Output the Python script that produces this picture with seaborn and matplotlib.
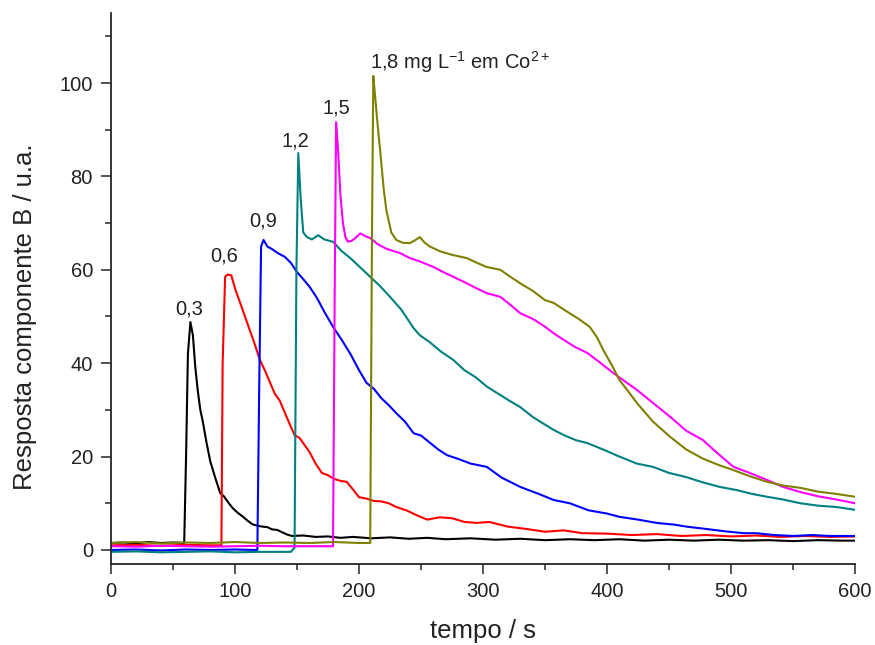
import matplotlib
matplotlib.use("Agg")
import matplotlib.pyplot as plt
from matplotlib.ticker import MultipleLocator
import numpy as np
import pandas as pd
import seaborn as sns

# ---- data ----
black_t = [0, 10, 20, 30, 40, 50, 59, 60.5, 62, 64, 66, 68, 70, 72, 74, 77, 80, 84, 88, 91,
           95, 98, 102, 106, 110, 114, 118, 122, 126, 130, 134, 138, 142, 146, 155, 165, 175, 185, 195, 210,
           225, 240, 255, 270, 290, 310, 330, 350, 370, 390, 410, 430, 450, 470, 490, 510, 530, 550, 570, 590, 600]
black_y = [1.5, 1.6, 1.4, 1.7, 1.5, 1.6, 1.5, 20, 42, 48.8, 46, 39, 34, 30, 27.5, 23, 19, 15.5, 12.2, 11.5,
           10, 9, 8, 7.2, 6.3, 5.5, 5.2, 5.0, 4.9, 4.4, 4.3, 3.8, 3.3, 3.0, 3.1, 2.8, 2.9, 2.6, 2.8, 2.5,
           2.7, 2.4, 2.6, 2.3, 2.5, 2.2, 2.4, 2.1, 2.3, 2.1, 2.3, 2.0, 2.2, 2.0, 2.2, 2.0, 2.1, 1.9, 2.1, 2.0, 2.0]

red_t = [0, 20, 40, 60, 80, 89, 90, 92, 94, 97, 100, 104, 108, 112, 116, 120, 124, 128, 132, 136,
         140, 144, 148, 152, 156, 160, 165, 170, 175, 180, 185, 190, 195, 200, 206, 212, 218, 224, 230, 238,
         246, 255, 265, 275, 285, 295, 305, 320, 335, 350, 365, 380, 400, 420, 440, 460, 480, 500, 520, 540,
         560, 580, 600]
red_y = [1.0, 1.1, 0.9, 1.1, 1.0, 1.0, 40, 58.5, 59, 58.8, 56, 53, 50, 47, 44, 40.7, 38.5, 36, 33.5, 32,
         29.5, 27, 24.6, 24, 22.5, 21, 18.5, 16.5, 16, 15.2, 14.8, 14.6, 13, 11.3, 11, 10.5, 10.4, 10, 9.2, 8.5,
         7.5, 6.5, 7, 6.8, 6, 5.8, 6.0, 5.0, 4.5, 3.9, 4.2, 3.6, 3.5, 3.2, 3.4, 3.0, 3.2, 2.9, 3.1, 2.8,
         3.0, 2.8, 2.9]

blue_t = [0, 20, 40, 60, 80, 100, 118, 119.5, 121, 123, 126, 130, 135, 140, 145, 150, 155, 160, 166, 172,
          179, 186, 193, 200, 206, 212, 218, 224, 230, 237, 244, 250, 257, 264, 271, 280, 290, 303, 315, 330,
          345, 357, 370, 385, 400, 410, 425, 440, 455, 464, 480, 495, 510, 520, 535, 550, 565, 580, 600]
blue_y = [0.0, 0.1, -0.1, 0.1, 0.0, 0.1, 0.0, 35, 65, 66.4, 65, 64.4, 63.5, 62.8, 61.5, 59.5, 58, 56.4, 54, 51,
          47.8, 45, 42, 38.5, 35.8, 34.5, 32.5, 31, 29.3, 27.5, 25, 24.5, 23, 21.5, 20.3, 19.5, 18.5, 17.8, 15.5, 13.5,
          12, 10.7, 10, 8.5, 7.8, 7.1, 6.5, 5.8, 5.4, 5.0, 4.5, 4.0, 3.6, 3.6, 3.2, 3.0, 3.2, 3.0, 3.0]

teal_t = [0, 20, 40, 60, 80, 100, 120, 145, 148, 149.5, 151, 153, 155, 158, 162, 167, 172, 179, 186, 193,
          201, 209, 217, 225, 234, 244, 249, 257, 266, 276, 285, 294, 303, 312, 321, 330, 340, 349, 357, 366,
          375, 384, 397, 410, 424, 437, 450, 464, 477, 491, 505, 517, 529, 542, 556, 570, 585, 600]
teal_y = [-0.4, -0.3, -0.5, -0.4, -0.3, -0.5, -0.4, -0.4, 0.5, 60, 85, 75, 68, 67, 66.5, 67.4, 66.5, 66, 64, 62.5,
          60.5, 58.5, 56.5, 54.2, 51.5, 47.5, 46, 44.5, 42.5, 40.7, 38.5, 37, 35, 33.5, 32, 30.6, 28.5, 27, 25.7, 24.5,
          23.5, 22.9, 21.5, 20, 18.5, 17.8, 16.5, 15.6, 14.5, 13.5, 12.8, 12, 11.4, 10.8, 10, 9.5, 9.2, 8.6]

magenta_t = [0, 20, 40, 60, 80, 100, 120, 140, 160, 179, 180.5, 181.5, 183, 185, 187, 189, 191, 194, 197, 201,
             205, 209, 215, 222, 233, 241, 249, 260, 268, 276, 287, 295, 303, 314, 322, 330, 340, 349, 357, 365,
             374, 384, 395, 405, 415, 424, 437, 451, 464, 477, 490, 502, 515, 529, 542, 556, 570, 585, 600]
magenta_y = [0.8, 0.7, 0.9, 0.8, 0.7, 0.8, 0.9, 0.8, 0.8, 0.8, 60, 91.6, 86, 76, 70, 67, 66, 66.2, 66.8, 67.8,
             67.2, 66.8, 65.5, 64.5, 63.6, 62.5, 61.8, 60.6, 59.5, 58.5, 57.1, 56, 55, 54.2, 52.5, 50.7, 49.5, 48, 46.4, 45,
             43.5, 42.2, 40, 37.9, 36, 34.3, 31.5, 28.5, 25.5, 23.6, 20.5, 17.8, 16.5, 15, 13.5, 12.4, 11.5, 10.8, 10]

olive_t = [0, 20, 40, 60, 80, 100, 120, 140, 160, 180, 200, 209, 210.5, 211.5, 213, 215, 217, 220, 222, 226,
           230, 235, 241, 245, 249, 253, 257, 265, 275, 287, 295, 303, 314, 322, 330, 340, 350, 357, 368, 377,
           386, 392, 397, 404, 410, 417, 424, 437, 451, 464, 477, 490, 502, 515, 529, 542, 556, 570, 585, 600]
olive_y = [1.5, 1.7, 1.4, 1.6, 1.5, 1.7, 1.5, 1.6, 1.5, 1.7, 1.5, 1.5, 70, 101.5, 97, 91, 85.6, 77, 72.8, 68,
           66.4, 65.8, 65.7, 66.3, 67, 65.8, 65, 64, 63.2, 62.5, 61.5, 60.6, 60, 58.5, 57.1, 55.5, 53.5, 52.9, 51, 49.5,
           47.8, 45.5, 42.8, 39.5, 36.4, 34, 31.5, 27.5, 24.2, 21.5, 19.6, 18.2, 17.1, 15.8, 14.6, 13.8, 13.3, 12.5, 12, 11.4]

series_names = ["0,3", "0,6", "0,9", "1,2", "1,5", "1,8"]
series_t = [black_t, red_t, blue_t, teal_t, magenta_t, olive_t]
series_y = [black_y, red_y, blue_y, teal_y, magenta_y, olive_y]
series_colors = ["#000000", "#ff0000", "#0000ff", "#008080", "#ff00ff", "#808000"]

label_texts = ["0,3", "0,6", "0,9", "1,2", "1,5", r"1,8 mg L$^{-1}$ em Co$^{2+}$"]
label_x = [63, 91, 122.6, 148.4, 181.5, 209]
label_y = [51.6, 63, 70.5, 87.6, 94.7, 104.4]
label_ha = ["center", "center", "center", "center", "center", "left"]

x_ticks = [0, 100, 200, 300, 400, 500, 600]
y_ticks = [0, 20, 40, 60, 80, 100]

# ---- build frame ----
frames = []
for name, t, y in zip(series_names, series_t, series_y):
    assert len(t) == len(y), name
    frames.append(pd.DataFrame({"t": t, "y": y, "serie": name}))
df = pd.concat(frames, ignore_index=True)

sns.set_style("ticks")
plt.rcParams["font.family"] = ["Liberation Sans", "DejaVu Sans"]
plt.rcParams["mathtext.fontset"] = "custom"
plt.rcParams["mathtext.rm"] = "Liberation Sans"
plt.rcParams["mathtext.it"] = "Liberation Sans:italic"
plt.rcParams["mathtext.default"] = "regular"

fig = plt.figure(figsize=(8.75, 6.45), dpi=100)
ax = fig.add_axes([0.1269, 0.1256, 0.8503, 0.8543])

sns.lineplot(data=df, x="t", y="y", hue="serie", hue_order=series_names,
             palette=dict(zip(series_names, series_colors)), estimator=None, sort=False,
             units="serie", linewidth=1.5, legend=False, ax=ax)

for txt, x, y, ha in zip(label_texts, label_x, label_y, label_ha):
    ax.text(x, y, txt, ha=ha, va="center", fontsize=14.5, color="#222222")

ax.set_xlim(0, 600)
ax.set_ylim(-3, 115)
ax.set_xticks(x_ticks)
ax.set_yticks(y_ticks)
ax.xaxis.set_minor_locator(MultipleLocator(50))
ax.yaxis.set_minor_locator(MultipleLocator(10))
ax.tick_params(which="major", direction="out", length=7, width=1.1, labelsize=14.5,
               labelcolor="#222222", pad=6)
ax.tick_params(which="minor", direction="out", length=4.5, width=1.1)
for s in ["top", "right"]:
    ax.spines[s].set_visible(False)
for s in ["left", "bottom"]:
    ax.spines[s].set_linewidth(1.3)

ax.set_xlabel("tempo / s", fontsize=18.5, color="#222222")
ax.set_ylabel("Resposta componente B / u.a.", fontsize=18.5, color="#222222")
ax.xaxis.set_label_coords(0.5, -0.1)
ax.yaxis.set_label_coords(-0.1, 0.449)

fig.savefig("out.png", dpi=100)
